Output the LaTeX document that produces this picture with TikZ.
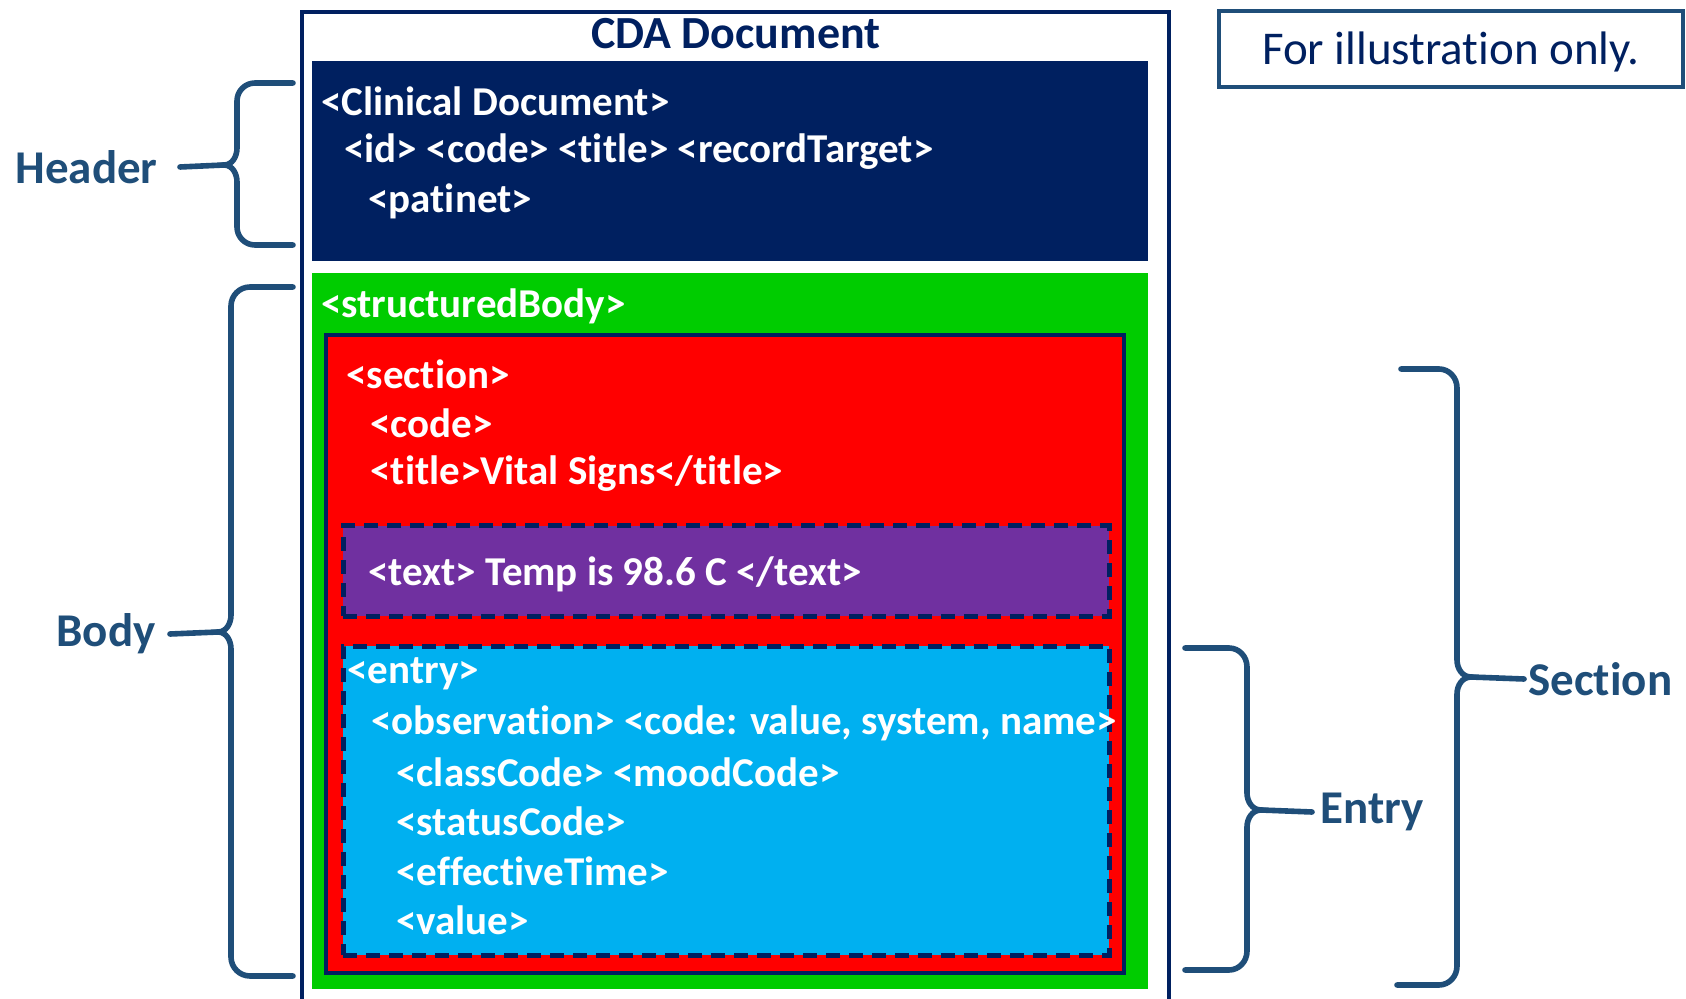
\documentclass[tikz,border=0pt]{standalone}
\usepackage{fontspec}
\setmainfont{Carlito}[Ligatures=NoCommon]
\usetikzlibrary{positioning,fit}
\definecolor{navy}{HTML}{002060}
\definecolor{bracecol}{HTML}{1F4E79}
\definecolor{bodygreen}{HTML}{00CC00}
\definecolor{secred}{HTML}{FF0000}
\definecolor{textpurple}{HTML}{7030A0}
\definecolor{entryblue}{HTML}{00B0F0}
\tikzset{
  x=0.5pt, y=-0.5pt,
  box/.style={rectangle, inner sep=0pt},
  dashbox/.style={box, draw=navy, line width=2.5pt, dash pattern=on 7pt off 4.5pt},
  xml/.style={anchor=west, inner sep=0pt, text=white,
    font=\fontsize{20.5}{24}\selectfont\bfseries},
  lbl/.style={text=bracecol, inner ysep=0pt,
    font=\fontsize{23.5}{28}\selectfont\bfseries},
  brace/.style={draw=bracecol, line width=2.8pt, line cap=round, line join=miter},
}

\begin{document}
\begin{tikzpicture}
  \useasboundingbox (0,0) rectangle (1686,999);

  % Document frame
  \draw[navy, line width=1.8pt] (302,1010) |- (1169,12) -- (1169,1010);
  \node[text=navy, font=\fontsize{23}{28}\selectfont\bfseries] (cda) at (736,34) {CDA Document};
  \node[box, draw=bracecol, line width=2.2pt, fit={(1219,11) (1683,87)}] (note) {};
  \node[text=navy, font=\fontsize{23.5}{28}\selectfont] (notetext) at ([yshift=-1.5pt]note.center) {For illustration only.};

  % Boxes
  \node[box, fill=navy, fit={(312,61) (1148,261)}] (hdr) {};
  \node[box, fill=bodygreen, fit={(312,273) (1148,989)}] (body) {};
  \node[box, fill=secred, draw=navy, line width=2.2pt, fit={(326,335) (1124,973)}] (sec) {};
  \node[dashbox, fill=textpurple, fit={(343,526) (1109,616)}] (txt) {};
  \node[dashbox, fill=entryblue, fit={(343,646) (1109,955)}] (ent) {};

  % Header text
  \node[xml] (clin) at (321,101) {<Clinical Document>};
  \node[xml] (ids) at (344,152) {<id> <code> <title> <recordTarget>};
  \node[xml] (pat) at (368,201) {<patinet>};

  % Body text
  \node[xml] (sbody) at (321,306) {<structuredBody>};
  \node[xml] (secn) at (346,374) {<section>};
  \node[xml] (code) at (370,423) {<code>};
  \node[xml] (title) at (370,474) {<title>Vital Signs</title>};
  \node[xml] (temp) at (368,574) {<text> Temp is 98.6 C </text>};
  \node[xml] (entry) at (347,674) {<entry>};
  \node[xml] (obs) at (371,723) {<observation> <code: value, system, name>};
  \node[xml] (class) at (396,772) {<classCode> <moodCode>};
  \node[xml] (status) at (396,821) {<statusCode>};
  \node[xml] (eff) at (396,871) {<effectiveTime>};
  \node[xml] (val) at (396,920) {<value>};

  % Labels
  \node[lbl, inner xsep=11pt, anchor=east] (hdlbl) at (180,167) {Header};
  \node[lbl, inner xsep=7pt, anchor=east] (bdlbl) at (170,634) {Body};
  \node[lbl, inner xsep=4pt, anchor=west] (enlbl) at (1312,812) {Entry};
  \node[lbl, inner xsep=2pt, anchor=west] (sclbl) at (1524,679) {Section};

  % Braces
  \coordinate (hdtip) at (224,165);
  \coordinate (bdtip) at (218,632);
  \coordinate (entip) at (1261,810);
  \coordinate (sctip) at (1471,677);
  \draw[brace] (293,83) -- (255,83) to[out=180,in=90] (237,101) -- (237,148)
    to[out=-90,in=0] (hdtip) to[out=0,in=90] (237,182) -- (237,227)
    to[out=-90,in=180] (255,245) -- (293,245);
  \draw[brace] (293,287) -- (250,287) to[out=180,in=90] (231,306) -- (231,615)
    to[out=-90,in=0] (bdtip) to[out=0,in=90] (231,649) -- (231,957)
    to[out=-90,in=180] (250,976) -- (293,976);
  \draw[brace] (1185,648) -- (1229,648) to[out=0,in=90] (1247,667) -- (1247,793)
    to[out=-90,in=180] (entip) to[out=180,in=90] (1247,827) -- (1247,951)
    to[out=-90,in=0] (1229,970) -- (1185,970);
  \draw[brace] (1401,369) -- (1439,369) to[out=0,in=90] (1457,388) -- (1457,660)
    to[out=-90,in=180] (sctip) to[out=180,in=90] (1457,694) -- (1457,966)
    to[out=-90,in=0] (1439,985) -- (1397,985);
  \draw[brace] (hdtip) -- (hdlbl.east);
  \draw[brace] (bdtip) -- (bdlbl.east);
  \draw[brace] (entip) -- (enlbl.west);
  \draw[brace] (sctip) -- (sclbl.west);
\end{tikzpicture}
\end{document}
